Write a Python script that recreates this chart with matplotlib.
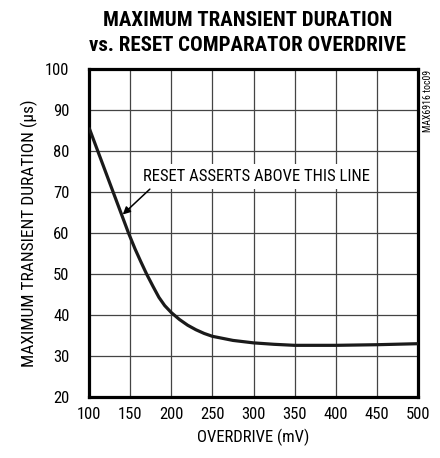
import matplotlib.pyplot as plt

# Data
overdrive_mv = [100, 125, 148, 156, 163, 170, 178, 185, 192, 200, 210, 220, 230, 240, 250,
                275, 300, 325, 350, 400, 450, 500]
duration_us = [85.7, 72.3, 60.0, 56.1, 53.0, 50.0, 46.9, 44.3, 42.3, 40.6, 38.9, 37.5, 36.4, 35.5, 34.8,
               33.8, 33.2, 32.85, 32.6, 32.6, 32.75, 33.0]

x_ticks = [100, 150, 200, 250, 300, 350, 400, 450, 500]
y_ticks = [20, 30, 40, 50, 60, 70, 80, 90, 100]

narrow = ['Liberation Sans Narrow', 'Arial Narrow', 'Roboto Condensed', 'PT Sans Narrow',
          'Archivo Narrow', 'Pragati Narrow', 'Open Sans Condensed', 'Liberation Sans', 'DejaVu Sans']
plt.rcParams['font.family'] = narrow

fig = plt.figure(figsize=(4.4, 4.58), dpi=100)
ax = fig.add_axes([0.2023, 0.1332, 0.7477, 0.7162])

ax.plot(overdrive_mv, duration_us, color='#1a1a1a', lw=2.3,
        solid_joinstyle='round', solid_capstyle='butt', zorder=3)

ax.set_xlim(100, 500)
ax.set_ylim(20, 100)
ax.set_xticks(x_ticks)
ax.set_yticks(y_ticks)
ax.tick_params(length=0, labelsize=12)
ax.tick_params(axis='x', pad=7)
ax.tick_params(axis='y', pad=14)
ax.grid(True, color='#444444', lw=0.9)
for s in ax.spines.values():
    s.set_linewidth(2.3)
    s.set_color('black')

ax.set_xlabel('OVERDRIVE (mV)', fontsize=12, labelpad=5)
ax.set_ylabel('MAXIMUM TRANSIENT DURATION (\u00b5s)', fontsize=12.5, labelpad=5)

fig.text(0.563, 0.976, 'MAXIMUM TRANSIENT DURATION\nvs. RESET COMPARATOR OVERDRIVE',
         ha='center', va='top', fontsize=15, fontweight='bold', linespacing=1.4)

ax.text(303, 73.8, 'RESET ASSERTS ABOVE THIS LINE', ha='center', va='center', fontsize=12,
        bbox=dict(boxstyle='square,pad=0.3', fc='white', ec='none'), zorder=4)
ax.annotate('', xy=(141, 64.5), xytext=(174, 70.7),
            arrowprops=dict(arrowstyle='-|>', color='black', lw=1.1,
                            shrinkA=0, shrinkB=0, mutation_scale=11),
            zorder=4)

fig.text(0.972, 0.847, 'MAX6916 toc09', rotation=90, ha='center', va='top', fontsize=7)

fig.savefig('out.png', dpi=100)
